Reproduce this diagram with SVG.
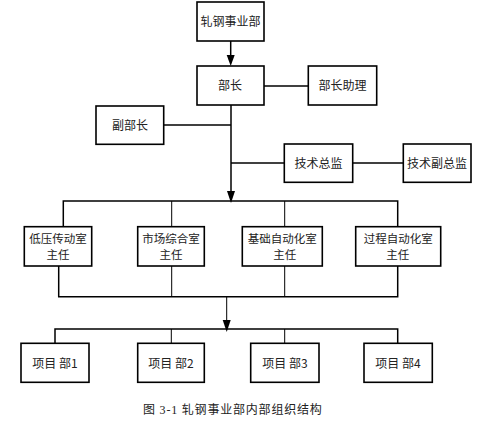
<svg xmlns="http://www.w3.org/2000/svg" width="478" height="421" viewBox="0 0 478 421">
<style>
.box{fill:#fff;stroke:#000;stroke-width:1.6}
.ln{fill:none;stroke:#000;stroke-width:1.5}
.thin{fill:none;stroke:#000;stroke-width:1}
text{font-family:"Noto Sans CJK SC","Liberation Serif",serif;font-size:12px;fill:#222;text-anchor:middle}
.two{font-size:11.5px}
.cap{font-family:"Liberation Serif","Noto Sans CJK SC",serif;font-size:12px;text-anchor:start;letter-spacing:0.8px}
</style>
<rect width="478" height="421" fill="#fff"/>
<g id="connectors">
<path class="ln" d="M230.7,41 V58"/>
<path d="M226.7,55 L234.7,55 L230.7,66 Z" fill="#000"/>
<path class="ln" d="M264,86 H308"/>
<path class="ln" d="M231,105 V192"/>
<path d="M227,191 L235,191 L231,203 Z" fill="#000"/>
<path class="ln" d="M164,125 H231"/>
<path class="ln" d="M231,163 H284"/>
<path class="ln" d="M353,163 H403"/>
<path class="ln" d="M63.3,226.7 V201 H397.7 V226.7"/>
<path class="thin" d="M171.7,201 V226.7 M284.7,201 V226.7"/>
<path class="ln" d="M58.7,266 V296.7 H397.7 V266"/>
<path class="thin" d="M171.7,266 V296.7 M284.7,266 V296.7"/>
<path class="thin" d="M226.7,296.7 V322"/>
<path d="M222.7,320 L230.7,320 L226.7,332 Z" fill="#000"/>
<path class="ln" d="M55,343.3 V329 H397.7 V343.3"/>
<path class="thin" d="M171.3,329 V343.3 M284.7,329 V343.3"/>
</g>
<g id="n1"><rect class="box" x="197" y="2" width="67" height="39"/><text x="230.5" y="26">轧钢事业部</text></g>
<g id="n2"><rect class="box" x="197" y="66" width="67" height="39"/><text x="230" y="90">部长</text></g>
<g id="n3"><rect class="box" x="308.3" y="66" width="68.4" height="39"/><text x="342.5" y="90">部长助理</text></g>
<g id="n4"><rect class="box" x="96" y="106" width="67.7" height="38.3"/><text x="130" y="129.5">副部长</text></g>
<g id="n5"><rect class="box" x="284.3" y="144" width="68.4" height="38.3"/><text x="318.5" y="167.5">技术总监</text></g>
<g id="n6"><rect class="box" x="403.3" y="144" width="67.7" height="38.3"/><text x="437" y="167.5">技术副总监</text></g>
<g id="n7"><rect class="box" x="24.3" y="226.7" width="67.4" height="39.3"/><text class="two" x="58" y="243">低压传动室</text><text class="two" x="58" y="259">主任</text></g>
<g id="n8"><rect class="box" x="137.7" y="226.7" width="66.6" height="39.3"/><text class="two" x="171" y="243">市场综合室</text><text class="two" x="171" y="259">主任</text></g>
<g id="n9"><rect class="box" x="242.3" y="226.7" width="80" height="39.3"/><text class="two" x="282.3" y="243">基础自动化室</text><text class="two" x="284.7" y="259">主任</text></g>
<g id="n10"><rect class="box" x="355.7" y="226.7" width="85" height="39.3"/><text class="two" x="398.2" y="243">过程自动化室</text><text class="two" x="397.7" y="259">主任</text></g>
<g id="n11"><rect class="box" x="21" y="343.3" width="68" height="39"/><text x="55" y="368">项目 部1</text></g>
<g id="n12"><rect class="box" x="137.7" y="343.3" width="66.6" height="39"/><text x="171" y="368">项目 部2</text></g>
<g id="n13"><rect class="box" x="250.7" y="343.3" width="68.3" height="39"/><text x="285" y="368">项目 部3</text></g>
<g id="n14"><rect class="box" x="364" y="343.3" width="68.3" height="39"/><text x="398" y="368">项目 部4</text></g>
<text class="cap" x="143" y="414">图 3-1 轧钢事业部内部组织结构</text>
</svg>
